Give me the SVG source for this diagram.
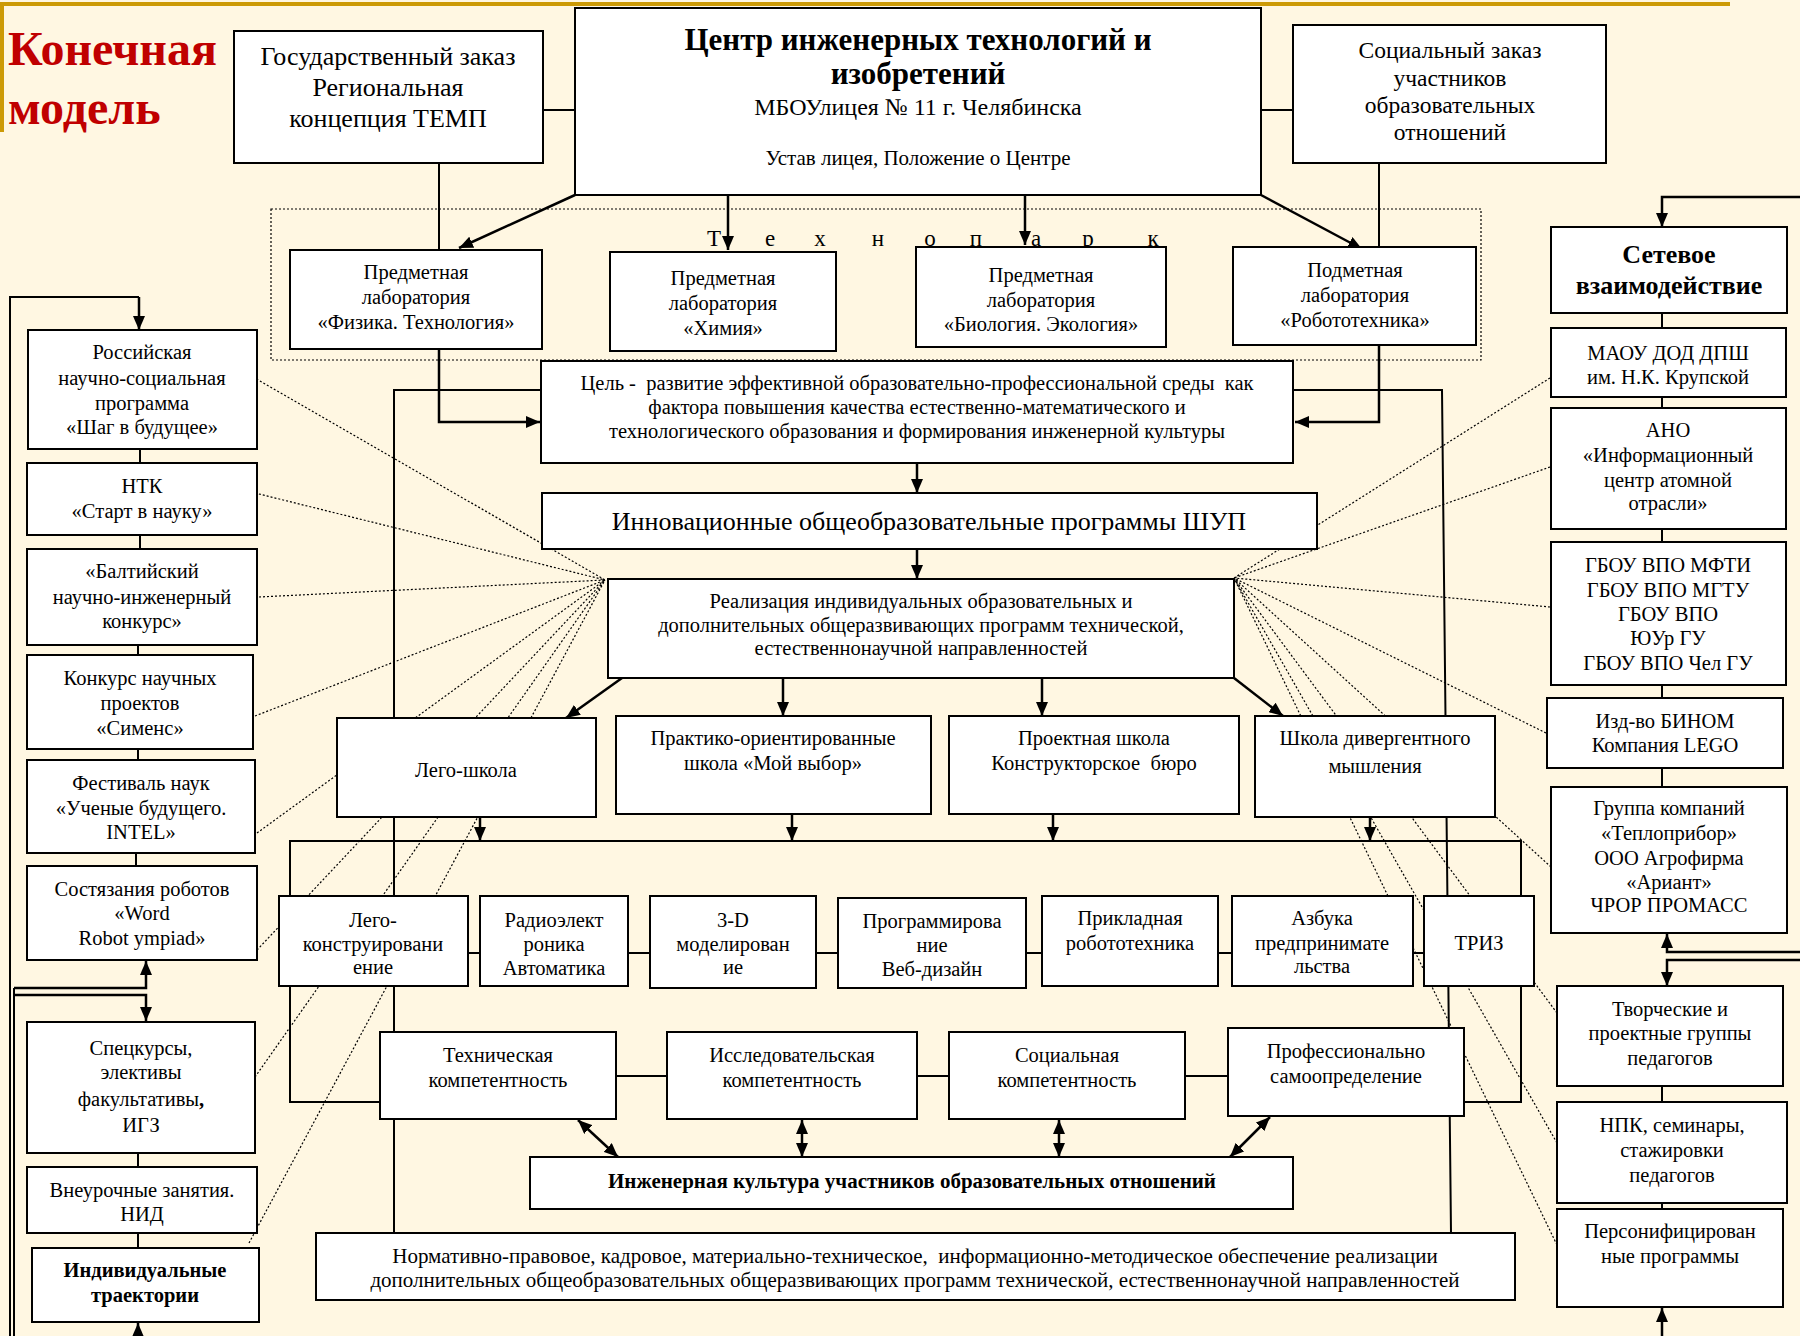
<svg xmlns="http://www.w3.org/2000/svg" width="1800" height="1336" viewBox="0 0 1800 1336">
<style>
.bg{fill:#FFF7E2}
.box{fill:#fff;stroke:#000;stroke-width:2}
.t{font-family:"Liberation Serif","DejaVu Serif",serif;font-size:20.5px;fill:#000;text-anchor:middle}
.b{font-weight:bold}
.s21{font-size:21px}
.s235{font-size:23.5px}
.s24{font-size:24px}
.s26{font-size:26px}
.s23{font-size:23px}
.s31{font-size:31px}
.c{stroke:#000;stroke-width:2;fill:none}
.a{stroke:#000;stroke-width:2.5;fill:none;marker-end:url(#ah)}
.aa{stroke:#000;stroke-width:2.5;fill:none;marker-end:url(#ah);marker-start:url(#ah)}
.d{stroke:#000;stroke-width:1.2;stroke-dasharray:2 2;fill:none}
</style>
<defs>
<marker id="ah" viewBox="0 0 14 12" refX="14" refY="6" markerWidth="14" markerHeight="12" markerUnits="userSpaceOnUse" orient="auto-start-reverse"><path d="M0,0 L14,6 L0,12 z" fill="#000"/></marker>
</defs>
<rect class="bg" x="0" y="0" width="1800" height="1336"/>
<rect x="0" y="2" width="1730" height="4" fill="#CC9A06"/>
<rect x="0" y="2" width="4" height="130" fill="#CC9A06"/>
<text x="8" y="65" font-family="Liberation Serif, serif" font-weight="bold" font-size="48" fill="#C00000">Конечная</text>
<text x="8" y="124" font-family="Liberation Serif, serif" font-weight="bold" font-size="48" fill="#C00000">модель</text>

<g id="connectors">
<rect class="d" x="271" y="209" width="1210" height="151"/>
<path class="c" d="M543,110 H575 M1261,110 H1293"/>
<path class="c" d="M439,163 V250 M1379,163 V247"/>
<path class="a" d="M439,349 V422 H540"/>
<path class="a" d="M1379,345 V422 H1295"/>
<path class="a" d="M728,195 V250"/>
<path class="a" d="M1025,195 V245"/>
<path class="a" d="M575,195 L459,248"/>
<path class="a" d="M1261,195 L1362,249"/>
<path class="a" d="M917,463 V493"/>
<path class="a" d="M917,549 V579"/>
<path class="c" d="M541,390 H394 V1233 M1294,390 H1442 L1451,1233"/>
<g class="d">
<path d="M253,377 L605,580 M255,493 L605,580 M259,597 L605,580 M255,716 L605,580 M257,833 L605,580 M257,950 L605,580 M255,1077 L605,580 M249,1243 L605,580"/>
<path d="M1550,378 L1234,578 M1550,467 L1234,578 M1550,607 L1234,578 M1546,733 L1234,578 M1551,867 L1234,578 M1557,1013 L1234,578 M1557,1143 L1234,578 M1557,1245 L1234,578"/>
</g>
<path class="a" d="M622,678 L566,718"/>
<path class="a" d="M783,678 V716"/>
<path class="a" d="M1042,678 V716"/>
<path class="a" d="M1234,678 L1283,716"/>
<path class="a" d="M480,817 V841"/>
<path class="a" d="M792,814 V841"/>
<path class="a" d="M1053,814 V841"/>
<path class="a" d="M1370,817 V841"/>
<path class="c" d="M380,1102 H290 V841 H1521 V1102 H1464"/>
<path class="c" d="M468,953 H1424"/>
<path class="c" d="M616,1076 H1228"/>
<path class="aa" d="M578,1120 L618,1157"/>
<path class="aa" d="M802,1120 V1157"/>
<path class="aa" d="M1059,1120 V1157"/>
<path class="aa" d="M1270,1117 L1230,1157"/>
<path class="c" d="M140,449 V463 M140,535 V549 M138,645 V655 M138,749 V760 M136,853 V866 M138,1153 V1167 M138,1233 V1248"/>
<path class="c" d="M10,1336 V297 H139"/>
<path class="a" d="M139,297 V330"/>
<path class="c" d="M14,1336 V988"/>
<path class="a" d="M14,988 H146 V961"/>
<path class="a" d="M14,995 H146 V1021"/>
<path class="a" d="M138,1336 V1323"/>
<path class="a" d="M1800,197 H1662 V227"/>
<path class="c" d="M1662,313 V328 M1662,397 V408 M1662,529 V542 M1662,685 V698 M1662,768 V787 M1662,1086 V1102 M1662,1203 V1209"/>
<path class="a" d="M1800,952 H1667 V934"/>
<path class="a" d="M1800,960 H1667 V986"/>
<path class="a" d="M1662,1336 V1308"/>
</g>

<g id="technopark">
<text class="t s23" x="714" y="246">Т</text>
<text class="t s23" x="770" y="246">е</text>
<text class="t s23" x="820" y="246">х</text>
<text class="t s23" x="878" y="246">н</text>
<text class="t s23" x="930" y="246">о</text>
<text class="t s23" x="976" y="246">п</text>
<text class="t s23" x="1036" y="246">а</text>
<text class="t s23" x="1088" y="246">р</text>
<text class="t s23" x="1153" y="246">к</text>
</g>

<g id="gos"><rect class="box" x="234" y="31" width="309" height="132"/>
<text class="t s26" x="388" y="65">Государственный заказ</text>
<text class="t s26" x="388" y="96">Региональная</text>
<text class="t s26" x="388" y="127">концепция ТЕМП</text></g>

<g id="center"><rect class="box" x="575" y="8" width="686" height="187"/>
<text class="t b s31" x="918" y="50">Центр инженерных технологий и</text>
<text class="t b s31" x="918" y="84">изобретений</text>
<text class="t s24" x="918" y="115">МБОУлицея № 11 г. Челябинска</text>
<text class="t s21" x="918" y="165">Устав лицея, Положение о Центре</text></g>

<g id="social"><rect class="box" x="1293" y="25" width="313" height="138"/>
<text class="t s235" x="1450" y="58">Социальный заказ</text>
<text class="t s235" x="1450" y="86">участников</text>
<text class="t s235" x="1450" y="113">образовательных</text>
<text class="t s235" x="1450" y="140">отношений</text></g>

<g id="lab-phys"><rect class="box" x="290" y="250" width="252" height="99"/>
<text class="t" x="416" y="279">Предметная</text>
<text class="t" x="416" y="304">лаборатория</text>
<text class="t" x="416" y="329">«Физика. Технология»</text></g>

<g id="lab-chem"><rect class="box" x="610" y="252" width="226" height="99"/>
<text class="t" x="723" y="285">Предметная</text>
<text class="t" x="723" y="310">лаборатория</text>
<text class="t" x="723" y="335">«Химия»</text></g>

<g id="lab-bio"><rect class="box" x="916" y="247" width="250" height="100"/>
<text class="t" x="1041" y="282">Предметная</text>
<text class="t" x="1041" y="307">лаборатория</text>
<text class="t" x="1041" y="331">«Биология. Экология»</text></g>

<g id="lab-robo"><rect class="box" x="1233" y="247" width="243" height="98"/>
<text class="t" x="1355" y="277">Подметная</text>
<text class="t" x="1355" y="302">лаборатория</text>
<text class="t" x="1355" y="327">«Робототехника»</text></g>

<g id="goal"><rect class="box" x="541" y="361" width="752" height="102"/>
<text class="t" x="917" y="390" xml:space="preserve">Цель -  развитие эффективной образовательно-профессиональной среды  как</text>
<text class="t" x="917" y="414">фактора повышения качества естественно-математического и</text>
<text class="t" x="917" y="438">технологического образования и формирования инженерной культуры</text></g>

<g id="innov"><rect class="box" x="542" y="493" width="775" height="56"/>
<text class="t s26" x="929" y="530">Инновационные общеобразовательные программы ШУП</text></g>

<g id="real"><rect class="box" x="608" y="579" width="626" height="99"/>
<text class="t" x="921" y="608">Реализация индивидуальных образовательных и</text>
<text class="t" x="921" y="632">дополнительных общеразвивающих программ технической,</text>
<text class="t" x="921" y="655">естественнонаучной направленностей</text></g>

<g id="lego-school"><rect class="box" x="337" y="718" width="259" height="99"/>
<text class="t" x="466" y="777">Лего-школа</text></g>
<g id="practice"><rect class="box" x="616" y="716" width="315" height="98"/>
<text class="t" x="773" y="745">Практико-ориентированные</text>
<text class="t" x="773" y="770">школа «Мой выбор»</text></g>
<g id="project"><rect class="box" x="949" y="716" width="290" height="98"/>
<text class="t" x="1094" y="745">Проектная школа</text>
<text class="t" x="1094" y="770" xml:space="preserve">Конструкторское  бюро</text></g>
<g id="diverg"><rect class="box" x="1255" y="716" width="240" height="101"/>
<text class="t" x="1375" y="745">Школа дивергентного</text>
<text class="t" x="1375" y="773">мышления</text></g>

<g id="lego-k"><rect class="box" x="279" y="896" width="189" height="90"/>
<text class="t" x="373" y="927">Лего-</text><text class="t" x="373" y="951">конструировани</text><text class="t" x="373" y="974">ение</text></g>
<g id="radio"><rect class="box" x="480" y="896" width="148" height="90"/>
<text class="t" x="554" y="927">Радиоэлект</text><text class="t" x="554" y="951">роника</text><text class="t" x="554" y="975">Автоматика</text></g>
<g id="model3d"><rect class="box" x="650" y="896" width="166" height="92"/>
<text class="t" x="733" y="927">3-D</text><text class="t" x="733" y="951">моделирован</text><text class="t" x="733" y="974">ие</text></g>
<g id="prog"><rect class="box" x="838" y="898" width="188" height="90"/>
<text class="t" x="932" y="928">Программирова</text><text class="t" x="932" y="952">ние</text><text class="t" x="932" y="976">Веб-дизайн</text></g>
<g id="applrob"><rect class="box" x="1042" y="896" width="176" height="90"/>
<text class="t" x="1130" y="925">Прикладная</text><text class="t" x="1130" y="950">робототехника</text></g>
<g id="abc"><rect class="box" x="1232" y="896" width="181" height="90"/>
<text class="t" x="1322" y="925">Азбука</text><text class="t" x="1322" y="950">предпринимате</text><text class="t" x="1322" y="973">льства</text></g>
<g id="triz"><rect class="box" x="1424" y="896" width="110" height="90"/>
<text class="t" x="1479" y="950">ТРИЗ</text></g>

<g id="tech"><rect class="box" x="380" y="1032" width="236" height="87"/>
<text class="t" x="498" y="1062">Техническая</text><text class="t" x="498" y="1087">компетентность</text></g>
<g id="research"><rect class="box" x="667" y="1032" width="250" height="87"/>
<text class="t" x="792" y="1062">Исследовательская</text><text class="t" x="792" y="1087">компетентность</text></g>
<g id="socialc"><rect class="box" x="949" y="1032" width="236" height="87"/>
<text class="t" x="1067" y="1062">Социальная</text><text class="t" x="1067" y="1087">компетентность</text></g>
<g id="prof"><rect class="box" x="1228" y="1028" width="236" height="88"/>
<text class="t" x="1346" y="1058">Профессионально</text><text class="t" x="1346" y="1083">самоопределение</text></g>

<g id="eng"><rect class="box" x="530" y="1157" width="763" height="52"/>
<text class="t b s21" x="912" y="1188">Инженерная культура участников образовательных отношений</text></g>

<g id="norm"><rect class="box" x="316" y="1233" width="1199" height="67"/>
<text class="t s21" x="915" y="1263" xml:space="preserve">Нормативно-правовое, кадровое, материально-техническое,  информационно-методическое обеспечение реализации</text>
<text class="t s21" x="915" y="1287">дополнительных общеобразовательных общеразвивающих программ технической, естественнонаучной направленностей</text></g>

<g id="l1"><rect class="box" x="28" y="330" width="229" height="119"/>
<text class="t" x="142" y="359">Российская</text><text class="t" x="142" y="385">научно-социальная</text><text class="t" x="142" y="410">программа</text><text class="t" x="142" y="434">«Шаг в будущее»</text></g>
<g id="l2"><rect class="box" x="27" y="463" width="230" height="72"/>
<text class="t" x="142" y="493">НТК</text><text class="t" x="142" y="518">«Старт в науку»</text></g>
<g id="l3"><rect class="box" x="27" y="549" width="230" height="96"/>
<text class="t" x="142" y="578">«Балтийский</text><text class="t" x="142" y="604">научно-инженерный</text><text class="t" x="142" y="628">конкурс»</text></g>
<g id="l4"><rect class="box" x="27" y="655" width="226" height="94"/>
<text class="t" x="140" y="685">Конкурс научных</text><text class="t" x="140" y="710">проектов</text><text class="t" x="140" y="735">«Сименс»</text></g>
<g id="l5"><rect class="box" x="27" y="760" width="228" height="93"/>
<text class="t" x="141" y="790">Фестиваль наук</text><text class="t" x="141" y="815">«Ученые будущего.</text><text class="t" x="141" y="839">INTEL»</text></g>
<g id="l6"><rect class="box" x="27" y="866" width="230" height="94"/>
<text class="t" x="142" y="896">Состязания роботов</text><text class="t" x="142" y="920">«Word</text><text class="t" x="142" y="945">Robot ympiad»</text></g>
<g id="l7"><rect class="box" x="27" y="1022" width="228" height="131"/>
<text class="t" x="141" y="1055">Спецкурсы,</text><text class="t" x="141" y="1079">элективы</text><text class="t" x="141" y="1106">факультативы<tspan font-weight="bold">,</tspan></text><text class="t" x="141" y="1132">ИГЗ</text></g>
<g id="l8"><rect class="box" x="27" y="1167" width="230" height="66"/>
<text class="t" x="142" y="1197">Внеурочные занятия.</text><text class="t" x="142" y="1221">НИД</text></g>
<g id="l9"><rect class="box" x="32" y="1248" width="227" height="74"/>
<text class="t b" x="145" y="1277">Индивидуальные</text><text class="t b" x="145" y="1302">траектории</text></g>

<g id="net"><rect class="box" x="1551" y="227" width="236" height="86"/>
<text class="t b s26" x="1669" y="263">Сетевое</text><text class="t b s26" x="1669" y="294">взаимодействие</text></g>
<g id="r1"><rect class="box" x="1551" y="328" width="235" height="69"/>
<text class="t" x="1668" y="360">МАОУ ДОД ДПШ</text><text class="t" x="1668" y="384">им. Н.К. Крупской</text></g>
<g id="r2"><rect class="box" x="1551" y="408" width="235" height="121"/>
<text class="t" x="1668" y="437">АНО</text><text class="t" x="1668" y="462">«Информационный</text><text class="t" x="1668" y="487">центр атомной</text><text class="t" x="1668" y="510">отрасли»</text></g>
<g id="r3"><rect class="box" x="1551" y="542" width="235" height="143"/>
<text class="t" x="1668" y="572">ГБОУ ВПО МФТИ</text><text class="t" x="1668" y="597">ГБОУ ВПО МГТУ</text><text class="t" x="1668" y="621">ГБОУ ВПО</text><text class="t" x="1668" y="645">ЮУр ГУ</text><text class="t" x="1668" y="670">ГБОУ ВПО Чел ГУ</text></g>
<g id="r4"><rect class="box" x="1547" y="698" width="236" height="70"/>
<text class="t" x="1665" y="728">Изд-во БИНОМ</text><text class="t" x="1665" y="752">Компания LEGO</text></g>
<g id="r5"><rect class="box" x="1551" y="787" width="236" height="146"/>
<text class="t" x="1669" y="815">Группа компаний</text><text class="t" x="1669" y="840">«Теплоприбор»</text><text class="t" x="1669" y="865">ООО Агрофирма</text><text class="t" x="1669" y="889">«Ариант»</text><text class="t" x="1669" y="912">ЧРОР ПРОМАСС</text></g>
<g id="r6"><rect class="box" x="1557" y="986" width="226" height="100"/>
<text class="t" x="1670" y="1016">Творческие и</text><text class="t" x="1670" y="1040">проектные группы</text><text class="t" x="1670" y="1065">педагогов</text></g>
<g id="r7"><rect class="box" x="1557" y="1102" width="230" height="101"/>
<text class="t" x="1672" y="1132">НПК, семинары,</text><text class="t" x="1672" y="1157">стажировки</text><text class="t" x="1672" y="1182">педагогов</text></g>
<g id="r8"><rect class="box" x="1557" y="1209" width="226" height="98"/>
<text class="t" x="1670" y="1238">Персонифицирован</text><text class="t" x="1670" y="1263">ные программы</text></g>
</svg>
